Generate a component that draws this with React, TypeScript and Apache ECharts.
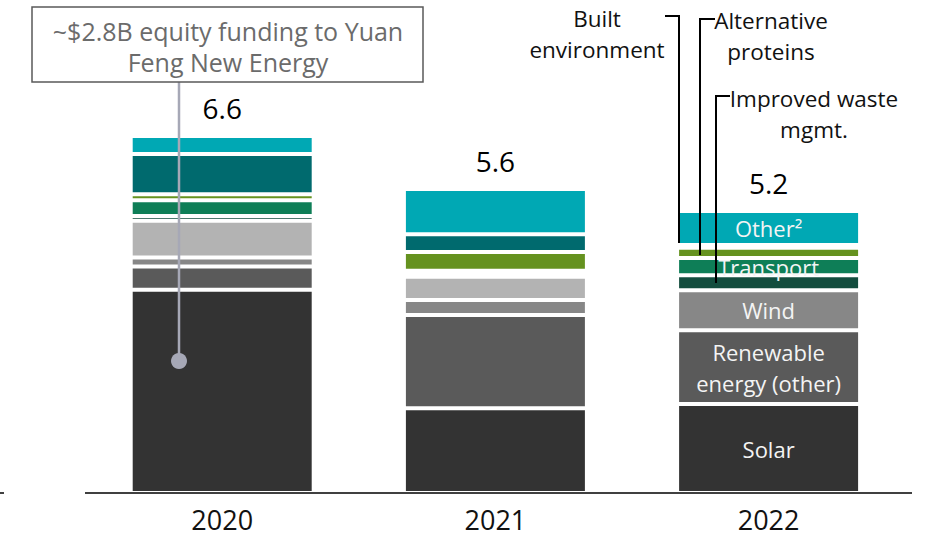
import React, { useEffect, useRef } from "react";
import * as echarts from "echarts";

const years = ["2020", "2021", "2022"];
const totals = [6.6, 5.6, 5.2];

const solar = [3.77, 1.57, 1.65];
const renewableOther = [0.43, 1.73, 1.37];
const wind = [0.17, 0.28, 0.74];
const unlabelledGrey = [0.68, 0.43, 0];
const improvedWaste = [0.09, 0.07, 0.28];
const transport = [0.29, 0.04, 0.32];
const altProteins = [0.11, 0.35, 0.19];
const builtEnv = [0.75, 0.33, 0.05];
const other = [0.33, 0.84, 0.63];

const seriesNames = [
  "Solar",
  "Renewable energy (other)",
  "Wind",
  "Other energy",
  "Improved waste mgmt.",
  "Transport",
  "Alternative proteins",
  "Built environment",
  "Other²",
];
const insideLabels = ["Solar", "Renewable\nenergy (other)", "Wind", "", "", "Transport", "", "", "Other²"];
const seriesColors = [
  "#333333",
  "#5a5a5a",
  "#878787",
  "#b3b3b3",
  "#134d3e",
  "#0e7e57",
  "#65921f",
  "#006a6e",
  "#00a8b4",
];
const seriesData = [solar, renewableOther, wind, unlabelledGrey, improvedWaste, transport, altProteins, builtEnv, other];

const FONT = "'Open Sans', 'Noto Sans', sans-serif";

export default function App() {
  const ref = useRef<HTMLDivElement>(null);
  useEffect(() => {
    document.body.style.margin = "0";
    if (!ref.current) return;
    const chart = echarts.init(ref.current, null, { renderer: "svg" });
    const series: any[] = seriesData.map((d, i) => ({
      name: seriesNames[i],
      type: "bar",
      stack: "total",
      data: d,
      barWidth: 183,
      itemStyle: { color: seriesColors[i], borderColor: "#ffffff", borderWidth: 2 },
      label: {
        show: insideLabels[i] !== "",
        position: "inside",
        color: "#f4f4f4",
        fontSize: 22,
        lineHeight: 31,
        fontFamily: FONT,
        formatter: (p: any) => (p.dataIndex === 2 ? insideLabels[i] : ""),
      },
    }));
    series.push({
      name: "Total",
      type: "bar",
      stack: "total",
      data: years.map(() => 0),
      barWidth: 183,
      itemStyle: { color: "transparent", borderWidth: 0 },
      label: {
        show: true,
        position: "top",
        distance: 14,
        color: "#000",
        fontSize: 28,
        fontFamily: FONT,
        formatter: (p: any) => totals[p.dataIndex].toFixed(1),
      },
    });

    const lineStyle = { stroke: "#000", lineWidth: 2, fill: "none" };
    const annFont = `22.5px ${FONT}`;
    chart.setOption({
      animation: false,
      textStyle: { fontFamily: FONT },
      grid: { left: 85.6, right: 20.8, top: 115.6, bottom: 45 },
      xAxis: {
        type: "category",
        data: years,
        axisLine: { show: false },
        axisTick: { show: false },
        axisLabel: { fontSize: 27, lineHeight: 27, color: "#111", margin: 13, fontFamily: FONT },
      },
      yAxis: { type: "value", min: 0, max: 7, show: false },
      series,
      graphic: [
        { type: "line", shape: { x1: 85, y1: 493, x2: 912, y2: 493 }, style: { stroke: "#000", lineWidth: 1.5 }, z: 100 },
        { type: "line", shape: { x1: 0, y1: 493, x2: 4, y2: 493 }, style: { stroke: "#000", lineWidth: 1.5 }, z: 100 },
        // Yuan Feng annotation
        { type: "line", shape: { x1: 179, y1: 82, x2: 179, y2: 361 }, style: { stroke: "#a6a8b6", lineWidth: 2.5 }, z: 100 },
        { type: "circle", shape: { cx: 179, cy: 361, r: 8 }, style: { fill: "#a6a8b6" }, z: 100 },
        { type: "rect", shape: { x: 32, y: 7, width: 391, height: 75 }, style: { fill: "#fff", stroke: "#5a5a5a", lineWidth: 1.5 }, z: 100 },
        {
          type: "text",
          x: 228,
          y: 46,
          z: 101,
          style: {
            text: "~$2.8B equity funding to Yuan\nFeng New Energy",
            textAlign: "center",
            textVerticalAlign: "middle",
            font: `25px ${FONT}`,
            lineHeight: 31,
            fill: "#6b6b6b",
          },
        },
        // right-side callouts
        { type: "polyline", shape: { points: [[665, 16], [679, 16], [679, 243]] }, style: lineStyle, z: 100 },
        { type: "polyline", shape: { points: [[715, 19], [700, 19], [700, 255]] }, style: lineStyle, z: 100 },
        { type: "polyline", shape: { points: [[730, 96], [716, 96], [716, 283]] }, style: lineStyle, z: 100 },
        {
          type: "text",
          x: 597,
          y: 34,
          z: 101,
          style: { text: "Built\nenvironment", textAlign: "center", textVerticalAlign: "middle", font: annFont, lineHeight: 31, fill: "#111" },
        },
        {
          type: "text",
          x: 771,
          y: 36,
          z: 101,
          style: { text: "Alternative\nproteins", textAlign: "center", textVerticalAlign: "middle", font: annFont, lineHeight: 31, fill: "#111" },
        },
        {
          type: "text",
          x: 814,
          y: 114,
          z: 101,
          style: { text: "Improved waste\nmgmt.", textAlign: "center", textVerticalAlign: "middle", font: annFont, lineHeight: 31, fill: "#111" },
        },
      ],
    });
    return () => chart.dispose();
  }, []);
  return <div ref={ref} style={{ width: 926, height: 538 }} />;
}
